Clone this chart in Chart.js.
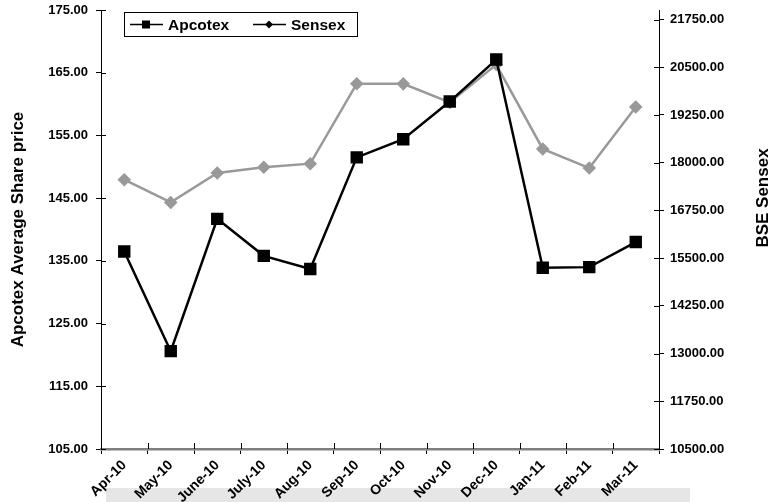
<!DOCTYPE html>
<html>
<head>
<meta charset="utf-8">
<script src="https://cdn.jsdelivr.net/npm/chart.js@4.4.1/dist/chart.umd.min.js"></script>
<style>
  html, body { margin: 0; padding: 0; background: #ffffff; }
  #wrap { width: 772px; height: 502px; position: relative; }
</style>
</head>
<body>
<div id="wrap"><canvas id="c"></canvas></div>
<script>
const months = ["Apr-10","May-10","June-10","July-10","Aug-10","Sep-10","Oct-10","Nov-10","Dec-10","Jan-11","Feb-11","Mar-11"];
const apcotex = [136.5, 120.6, 141.7, 135.8, 133.7, 151.5, 154.4, 160.4, 167.1, 133.9, 134.0, 138.0];
const sensex = [17555, 16960, 17730, 17880, 17975, 20070, 20065, 19580, 20570, 18360, 17860, 19460];
const leftTicks = [105, 115, 125, 135, 145, 155, 165, 175];
const rightTicks = [10500, 11750, 13000, 14250, 15500, 16750, 18000, 19250, 20500, 21750];
const rightTitle = 'BSE Sensex';

const FONT = "'Liberation Sans', Arial, sans-serif";

const decorPlugin = {
  id: 'decor',
  beforeDraw(chart) {
    const ctx = chart.ctx;
    ctx.save();
    ctx.fillStyle = '#e6e6e7';
    ctx.fillRect(106, 488, 584, 14);
    ctx.restore();
  },
  afterDraw(chart) {
    const ctx = chart.ctx;
    const ca = chart.chartArea;
    ctx.save();
    // inner tick marks (crossing the axes)
    ctx.strokeStyle = '#000';
    ctx.lineWidth = 1;
    const yl = chart.scales.y;
    yl.ticks.forEach(t => {
      const py = Math.round(yl.getPixelForValue(t.value)) + 0.5;
      ctx.beginPath(); ctx.moveTo(ca.left, py); ctx.lineTo(ca.left + 5, py); ctx.stroke();
    });
    const yr = chart.scales.y1;
    yr.ticks.forEach(t => {
      const py = Math.round(yr.getPixelForValue(t.value)) + 0.5;
      ctx.beginPath(); ctx.moveTo(ca.right, py); ctx.lineTo(ca.right - 5, py); ctx.stroke();
    });
    const xs = chart.scales.x;
    for (let i = 1; i < months.length; i++) {
      const px = Math.round((xs.getPixelForTick(i - 1) + xs.getPixelForTick(i)) / 2) + 0.5;
      ctx.beginPath(); ctx.moveTo(px, ca.bottom); ctx.lineTo(px, ca.bottom - 6); ctx.stroke();
    }
    // right axis title
    ctx.save();
    ctx.translate(763, 198);
    ctx.rotate(-Math.PI / 2);
    ctx.font = "bold 17px " + FONT;
    ctx.fillStyle = '#000';
    ctx.textAlign = 'center';
    ctx.textBaseline = 'middle';
    ctx.fillText(rightTitle, 0, 0);
    ctx.restore();
    // legend box
    const lx = ca.left + 23, ly = 12, lw = 233, lh = 24;
    ctx.fillStyle = '#fff';
    ctx.fillRect(lx, ly, lw, lh);
    ctx.strokeStyle = '#000';
    ctx.lineWidth = 1;
    ctx.strokeRect(lx + 0.5, ly + 0.5, lw, lh);
    const cy = ly + lh / 2 + 0.5;
    ctx.font = "bold 15.5px " + FONT;
    ctx.textBaseline = 'middle';
    ctx.fillStyle = '#000';
    chart.data.datasets.forEach((ds, i) => {
      const x0 = lx + 6 + i * 123;
      ctx.strokeStyle = '#000';
      ctx.lineWidth = 1.5;
      ctx.beginPath(); ctx.moveTo(x0, cy); ctx.lineTo(x0 + 33, cy); ctx.stroke();
      ctx.fillStyle = '#000';
      const mx = x0 + 16;
      if (i === 0) {
        ctx.fillRect(mx - 4, cy - 4, 8, 8);
      } else {
        ctx.beginPath();
        ctx.moveTo(mx, cy - 4); ctx.lineTo(mx + 4, cy); ctx.lineTo(mx, cy + 4); ctx.lineTo(mx - 4, cy);
        ctx.closePath(); ctx.fill();
      }
      ctx.fillText(ds.label, x0 + 38, cy + 1);
    });
    ctx.restore();
  }
};

new Chart(document.getElementById('c'), {
  type: 'line',
  data: {
    labels: months,
    datasets: [
      {
        label: 'Apcotex',
        data: apcotex,
        yAxisID: 'y',
        borderColor: '#000000',
        backgroundColor: '#000000',
        borderWidth: 2.5,
        pointStyle: 'rect',
        pointRadius: 7,
        pointHoverRadius: 7,
        tension: 0
      },
      {
        label: 'Sensex',
        data: sensex,
        yAxisID: 'y1',
        borderColor: '#999999',
        backgroundColor: '#999999',
        borderWidth: 2.5,
        pointStyle: 'rectRot',
        pointRadius: 5,
        pointHoverRadius: 5,
        tension: 0
      }
    ]
  },
  options: {
    responsive: true,
    maintainAspectRatio: false,
    animation: false,
    layout: { padding: { top: 10, bottom: 0, left: 0, right: 0 } },
    plugins: { legend: { display: false }, tooltip: { enabled: false } },
    scales: {
      x: {
        offset: true,
        grid: { display: true, drawOnChartArea: false, drawTicks: true, tickLength: 5, color: '#000', offset: true },
        border: { display: true, color: '#808080', width: 2.5 },
        ticks: {
          autoSkip: false, maxRotation: 45, minRotation: 45, padding: 3,
          color: '#000', font: { family: FONT, size: 14, weight: 'bold' }
        },
        afterFit(s) { s.height = 53; }
      },
      y: {
        position: 'left',
        min: 105, max: 175,
        afterBuildTicks(s) { s.ticks = leftTicks.map(v => ({ value: v })); },
        grid: { drawOnChartArea: false, drawTicks: true, tickLength: 5, color: '#000' },
        border: { display: true, color: '#000', width: 1 },
        ticks: {
          padding: 8, color: '#000', font: { family: FONT, size: 13, weight: 'bold' },
          callback: v => Number(v).toFixed(2)
        },
        title: {
          display: true, text: 'Apcotex Average Share price', color: '#000',
          font: { family: FONT, size: 17, weight: 'bold' }, padding: { top: 8, bottom: 4 }
        },
        afterFit(s) { s.width = 101; s.paddingTop = 0; s.paddingBottom = 0; }
      },
      y1: {
        position: 'right',
        min: 10500, max: 22000,
        afterBuildTicks(s) { s.ticks = rightTicks.map(v => ({ value: v })); },
        grid: { drawOnChartArea: false, drawTicks: true, tickLength: 5, color: '#000' },
        border: { display: true, color: '#000', width: 1 },
        ticks: {
          padding: 6, color: '#000', font: { family: FONT, size: 13, weight: 'bold' },
          callback: v => Number(v).toFixed(2)
        },
        afterFit(s) { s.width = 113; s.paddingTop = 0; s.paddingBottom = 0; }
      }
    }
  },
  plugins: [decorPlugin]
});
</script>
</body>
</html>
